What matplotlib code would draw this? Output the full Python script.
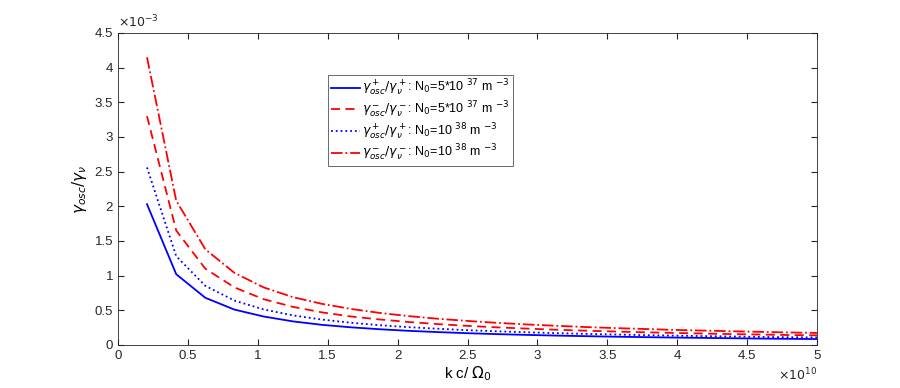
import matplotlib
matplotlib.use("Agg")
import matplotlib.pyplot as plt
from matplotlib.ticker import FuncFormatter
import numpy as np

# wave number k c / Omega_0 (units of 1e10)
k_vals = [0.208, 0.417, 0.625, 0.833, 1.042, 1.25, 1.458, 1.667, 1.875, 2.083, 2.292, 2.5,
          2.708, 2.917, 3.125, 3.333, 3.542, 3.75, 3.958, 4.167, 4.375, 4.583, 4.792, 5.0]

# growth ratio (units of 1e-3)
plus_5e37 = [2.03, 1.02, 0.68, 0.51, 0.41, 0.34, 0.29, 0.254, 0.226, 0.203, 0.185, 0.169,
             0.156, 0.145, 0.135, 0.127, 0.119, 0.113, 0.107, 0.102, 0.097, 0.092, 0.088, 0.085]
minus_5e37 = [3.30, 1.65, 1.10, 0.83, 0.66, 0.55, 0.47, 0.41, 0.367, 0.33, 0.30, 0.275,
              0.254, 0.236, 0.22, 0.206, 0.194, 0.183, 0.174, 0.165, 0.157, 0.15, 0.143, 0.138]
plus_1e38 = [2.56, 1.28, 0.853, 0.64, 0.512, 0.427, 0.366, 0.32, 0.284, 0.256, 0.233, 0.213,
             0.197, 0.183, 0.171, 0.16, 0.151, 0.142, 0.135, 0.128, 0.122, 0.116, 0.111, 0.107]
minus_1e38 = [4.15, 2.08, 1.38, 1.04, 0.83, 0.69, 0.593, 0.519, 0.461, 0.415, 0.377, 0.346,
              0.319, 0.296, 0.277, 0.259, 0.244, 0.231, 0.218, 0.208, 0.198, 0.189, 0.18, 0.173]

labels = [r"$\gamma^+_{osc}/\gamma^+_{\nu}$: N$_0$=5*10 $^{37}$ m $^{-3}$",
          r"$\gamma^-_{osc}/\gamma^-_{\nu}$: N$_0$=5*10 $^{37}$ m $^{-3}$",
          r"$\gamma^+_{osc}/\gamma^+_{\nu}$: N$_0$=10 $^{38}$ m $^{-3}$",
          r"$\gamma^-_{osc}/\gamma^-_{\nu}$: N$_0$=10 $^{38}$ m $^{-3}$"]

plt.rcParams['font.family'] = ['Liberation Sans', 'DejaVu Sans']
plt.rcParams['mathtext.fontset'] = 'dejavusans'

fig = plt.figure(figsize=(9, 3.88), dpi=100)
ax = fig.add_axes([0.131, 0.111, 0.777, 0.804])

x = np.array(k_vals) * 1e10
ax.plot(x, np.array(plus_5e37) * 1e-3, color='#0000ff', linestyle='-', lw=1.3, label=labels[0])
ax.plot(x, np.array(minus_5e37) * 1e-3, color='#ff0000', linestyle=(0, (5, 3)), lw=1.3, label=labels[1])
ax.plot(x, np.array(plus_1e38) * 1e-3, color='#0000ff', linestyle=':', lw=1.3, label=labels[2])
ax.plot(x, np.array(minus_1e38) * 1e-3, color='#ff0000', linestyle='-.', lw=1.3, label=labels[3])

ax.set_xlim(0, 5e10)
ax.set_ylim(0, 4.5e-3)
ax.set_xticks(np.arange(0, 5.01e10, 0.5e10))
ax.set_yticks(np.arange(0, 4.51e-3, 0.5e-3))
ax.xaxis.set_major_formatter(FuncFormatter(lambda v, p: "%g" % round(v / 1e10, 3)))
ax.yaxis.set_major_formatter(FuncFormatter(lambda v, p: "%g" % round(v / 1e-3, 3)))
ax.text(0.0, 1.01, r"$\times10^{-3}$", transform=ax.transAxes, fontsize=9,
        color='#262626', ha='left', va='bottom')
ax.text(1.0, -0.07, r"$\times10^{10}$", transform=ax.transAxes, fontsize=9,
        color='#262626', ha='right', va='top')

ax.tick_params(direction='in', top=True, right=True, labelsize=9.5, colors='#262626', length=4)
for s in ax.spines.values():
    s.set_color('#262626')
    s.set_linewidth(0.6)

ax.set_xlabel(r"k c/ $\Omega_0$", fontsize=11, labelpad=2)
ax.set_ylabel(r"$\gamma_{osc}/\gamma_{\nu}$", fontsize=11, labelpad=4)

leg = ax.legend(loc='upper left', bbox_to_anchor=(0.30, 0.865), fontsize=9,
                frameon=True, fancybox=False, edgecolor='#262626', handlelength=2.3,
                handletextpad=0.2, borderpad=0.25, labelspacing=0.12, borderaxespad=0)
leg.get_frame().set_linewidth(0.6)

plt.savefig("out.png", dpi=100)
